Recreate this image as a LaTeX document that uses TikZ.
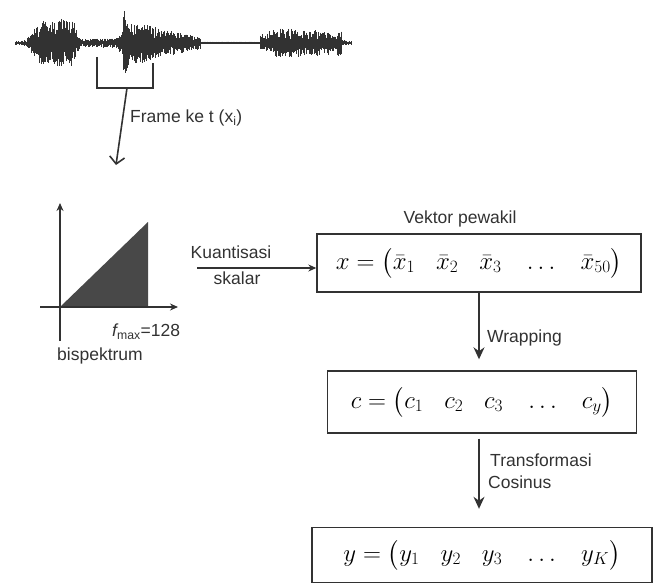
\documentclass[tikz,border=0pt]{standalone}
\usepackage{amsmath}
\usepackage{fontspec}
\newfontfamily\labelfont{Liberation Sans}
\usetikzlibrary{arrows.meta,positioning,calc}
\definecolor{inkGray}{RGB}{50,50,50}
\definecolor{fillGray}{RGB}{72,72,72}
\tikzset{
	vbox/.style={
		draw=inkGray,
		line width=1.4pt,
		inner sep=0pt,
		font=\fontsize{23}{26}\selectfont
	},
	lbl/.style={font=\labelfont\fontsize{17.5}{19}\selectfont, text=inkGray, inner sep=0pt},
	varr/.style={-{Stealth[length=12pt,width=11pt]}, line width=1.5pt, inkGray},
	harr/.style={-{Stealth[length=8pt,width=7pt]}, line width=1.1pt, inkGray},
	farr/.style={-{Straight Barb[length=7pt,width=15pt]}, line width=1.6pt, inkGray},
	axis/.style={-{Stealth[length=8pt,width=7pt]}, line width=1.2pt, inkGray},
	brk/.style={line width=1.5pt, inkGray},
	wave/.style={line width=0.7pt, inkGray}
}
\newcommand{\elsep}{\hspace{21pt}}

\begin{document}
\begin{tikzpicture}[x=1pt, y=-1pt]
	\useasboundingbox (0,0) rectangle (658,586);
	% speech signal
	\pgfmathsetseed{1234}
	\draw[wave] (15,43) -- (352,43);
	\foreach \xa/\xb/\aa/\ab in {15/27/2/3, 27/40/5/20, 40/62/22/25, 62/76/25/22, 76/80/14/5,
		80/118/4/5, 118/123/8/12, 123/128/33/30, 128/155/22/18, 155/200/15/7, 200/260/1.5/1.5,
		260/276/8/14, 276/330/15/12, 330/337/9/6, 337/342/13/12, 342/352/3/2}{
		\pgfmathtruncatemacro\wn{(\xb-\xa)/0.6}
		\foreach \i in {0,...,\wn}{
			\pgfmathsetmacro\wx{\xa+0.6*\i}
			\pgfmathsetmacro\wamp{\aa+(\ab-\aa)*\i/\wn}
			\pgfmathsetmacro\wup{\wamp*(0.3+0.7*rnd)}
			\pgfmathsetmacro\wdn{\wamp*(0.3+0.7*rnd)}
			\draw[wave] (\wx,43-\wup) -- (\wx,43+\wdn);
		}
	}
	% frame
	\coordinate (bl) at (97,57);
	\coordinate (br) at (153,63);
	\coordinate (fb) at (127,88);
	\coordinate (ft) at (116,165);
	\draw[brk] (bl) -- ++(0,31) -| (br);
	\draw[farr] (fb) -- (ft);
	\node[lbl, anchor=west] (framelbl) at (130,118) {Frame ke t (x\textsubscript{i})};
	% bispectrum
	\coordinate (o) at (60,307);
	\fill[fillGray] (o) -- (148,222) -- (148,307) -- cycle;
	\draw[axis] (40,307) -- (178,307);
	\draw[axis] (60,341) -- (60,203);
	\node[lbl, anchor=west] (fmax) at (112,332) {{\itshape f}\textsubscript{max}=128};
	\node[lbl] (bisp) at (100,356) {bispektrum};
	% vectors
	\node[vbox, minimum width=324pt, minimum height=58pt] (vec) at (479,263)
		{$x = \bigl(\bar{x}_1 \elsep \bar{x}_2 \elsep \bar{x}_3 \elsep \dots \elsep \bar{x}_{50}\bigr)$};
	\node[lbl] (veclbl) at (460,219) {Vektor pewakil};
	\node[vbox, minimum width=309pt, minimum height=62pt] (cvec) at (482,402)
		{$c = \bigl(c_1 \elsep c_2 \elsep c_3 \elsep \dots \elsep c_{y}\bigr)$};
	\node[vbox, minimum width=340pt, minimum height=55pt] (yvec) at (482,555)
		{$y = \bigl(y_1 \elsep y_2 \elsep y_3 \elsep \dots \elsep y_{K}\bigr)$};
	% quantisation
	\coordinate (kq) at (197,268);
	\draw[harr] (kq) -- (kq -| vec.west);
	\node[lbl] (kuant) at (231,252) {Kuantisasi};
	\node[lbl] (skal) at (237,278) {skalar};
	% wrapping and cosine transform
	\draw[varr, shorten >=11pt] (vec.south) -- (vec.south |- cvec.north);
	\node[lbl, anchor=west] (wrap) at (487,338) {Wrapping};
	\draw[varr, shorten <=5pt, shorten >=18pt] (cvec.south -| vec.south) -- (yvec.north -| vec.south);
	\node[lbl, anchor=west] (trans) at (490,460) {Transformasi};
	\node[lbl, anchor=west] (cos) at (488,482) {Cosinus};
\end{tikzpicture}
\end{document}
